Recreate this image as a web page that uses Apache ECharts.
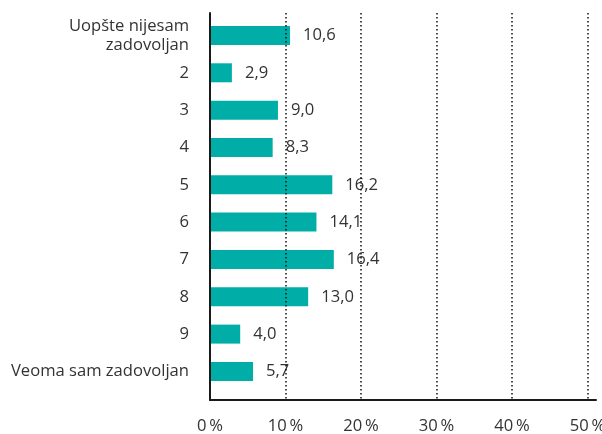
<!DOCTYPE html>
<html>
<head>
<meta charset="utf-8">
<style>
  html, body { margin: 0; padding: 0; background: #fff; }
  #chart { width: 602px; height: 434px; }
</style>
<script src="https://cdn.jsdelivr.net/npm/echarts@6/dist/echarts.min.js"></script>
</head>
<body>
<div id="chart"></div>
<script>
// Satisfaction levels, top to bottom
const categories = [
  'Uopšte nijesam\nzadovoljan', '2', '3', '4', '5', '6', '7', '8', '9', 'Veoma sam zadovoljan'
];
// Share of respondents, %
const shares = [10.6, 2.9, 9.0, 8.3, 16.2, 14.1, 16.4, 13.0, 4.0, 5.7];
// Percentage axis ticks
const tickValues = [0, 10, 20, 30, 40, 50];

const FONT = 'Open Sans';
const TEXT = '#333333';
const FS = 16.6;
const AXIS_MAX = 50;

const chart = echarts.init(document.getElementById('chart'), null, { renderer: 'canvas' });

const fmtComma = v => v.toFixed(1).replace('.', ',');

chart.setOption({
  animation: false,
  backgroundColor: '#ffffff',
  textStyle: { fontFamily: FONT },
  grid: [
    // frame lines (slightly longer than the plotting band)
    { left: 210, top: 13, right: 6, bottom: 34, outerBoundsMode: 'none', containLabel: false },
    // dotted gridlines and percentage labels
    { left: 210, top: 13, width: 377.5, bottom: 34, outerBoundsMode: 'none', containLabel: false },
    // bars
    { left: 210, top: 16.8, width: 377.5, height: 373.3, outerBoundsMode: 'none', containLabel: false }
  ],
  xAxis: [
    {
      gridIndex: 0, type: 'value', min: 0, max: AXIS_MAX * 386 / 377.5, z: 6,
      axisLine: { show: true, lineStyle: { color: '#1a1a1a', width: 2 } },
      axisTick: { show: false }, axisLabel: { show: false }, splitLine: { show: false }
    },
    {
      gridIndex: 1, type: 'value', min: tickValues[0], max: tickValues[tickValues.length - 1],
      interval: 10, z: 5,
      axisLine: { show: false }, axisTick: { show: false },
      axisLabel: {
        margin: 18, color: TEXT, fontFamily: FONT, fontSize: FS,
        formatter: v => v + '\u2009%'
      },
      splitLine: {
        show: true,
        lineStyle: { color: '#111', width: 1.5, type: [1.5, 2.5] }
      }
    },
    {
      gridIndex: 2, type: 'value', min: 0, max: AXIS_MAX, show: false
    }
  ],
  yAxis: [
    {
      gridIndex: 0, type: 'value', min: 0, max: 1, z: 6,
      axisLine: { show: true, lineStyle: { color: '#1a1a1a', width: 2 } },
      axisTick: { show: false }, axisLabel: { show: false }, splitLine: { show: false }
    },
    {
      gridIndex: 1, type: 'category', data: categories, inverse: true, show: false
    },
    {
      gridIndex: 2, type: 'category', data: categories, inverse: true,
      axisLine: { show: false }, axisTick: { show: false }, splitLine: { show: false },
      axisLabel: {
        margin: 21, color: TEXT, fontFamily: FONT, fontSize: FS, lineHeight: 19,
        align: 'right'
      }
    }
  ],
  series: [
    {
      type: 'bar',
      xAxisIndex: 2,
      yAxisIndex: 2,
      data: shares,
      barWidth: 19,
      itemStyle: { color: '#00aea7' },
      label: {
        show: true, position: 'right', distance: 13,
        color: TEXT, fontFamily: FONT, fontSize: FS,
        formatter: p => fmtComma(p.value)
      }
    }
  ]
});
</script>
</body>
</html>
